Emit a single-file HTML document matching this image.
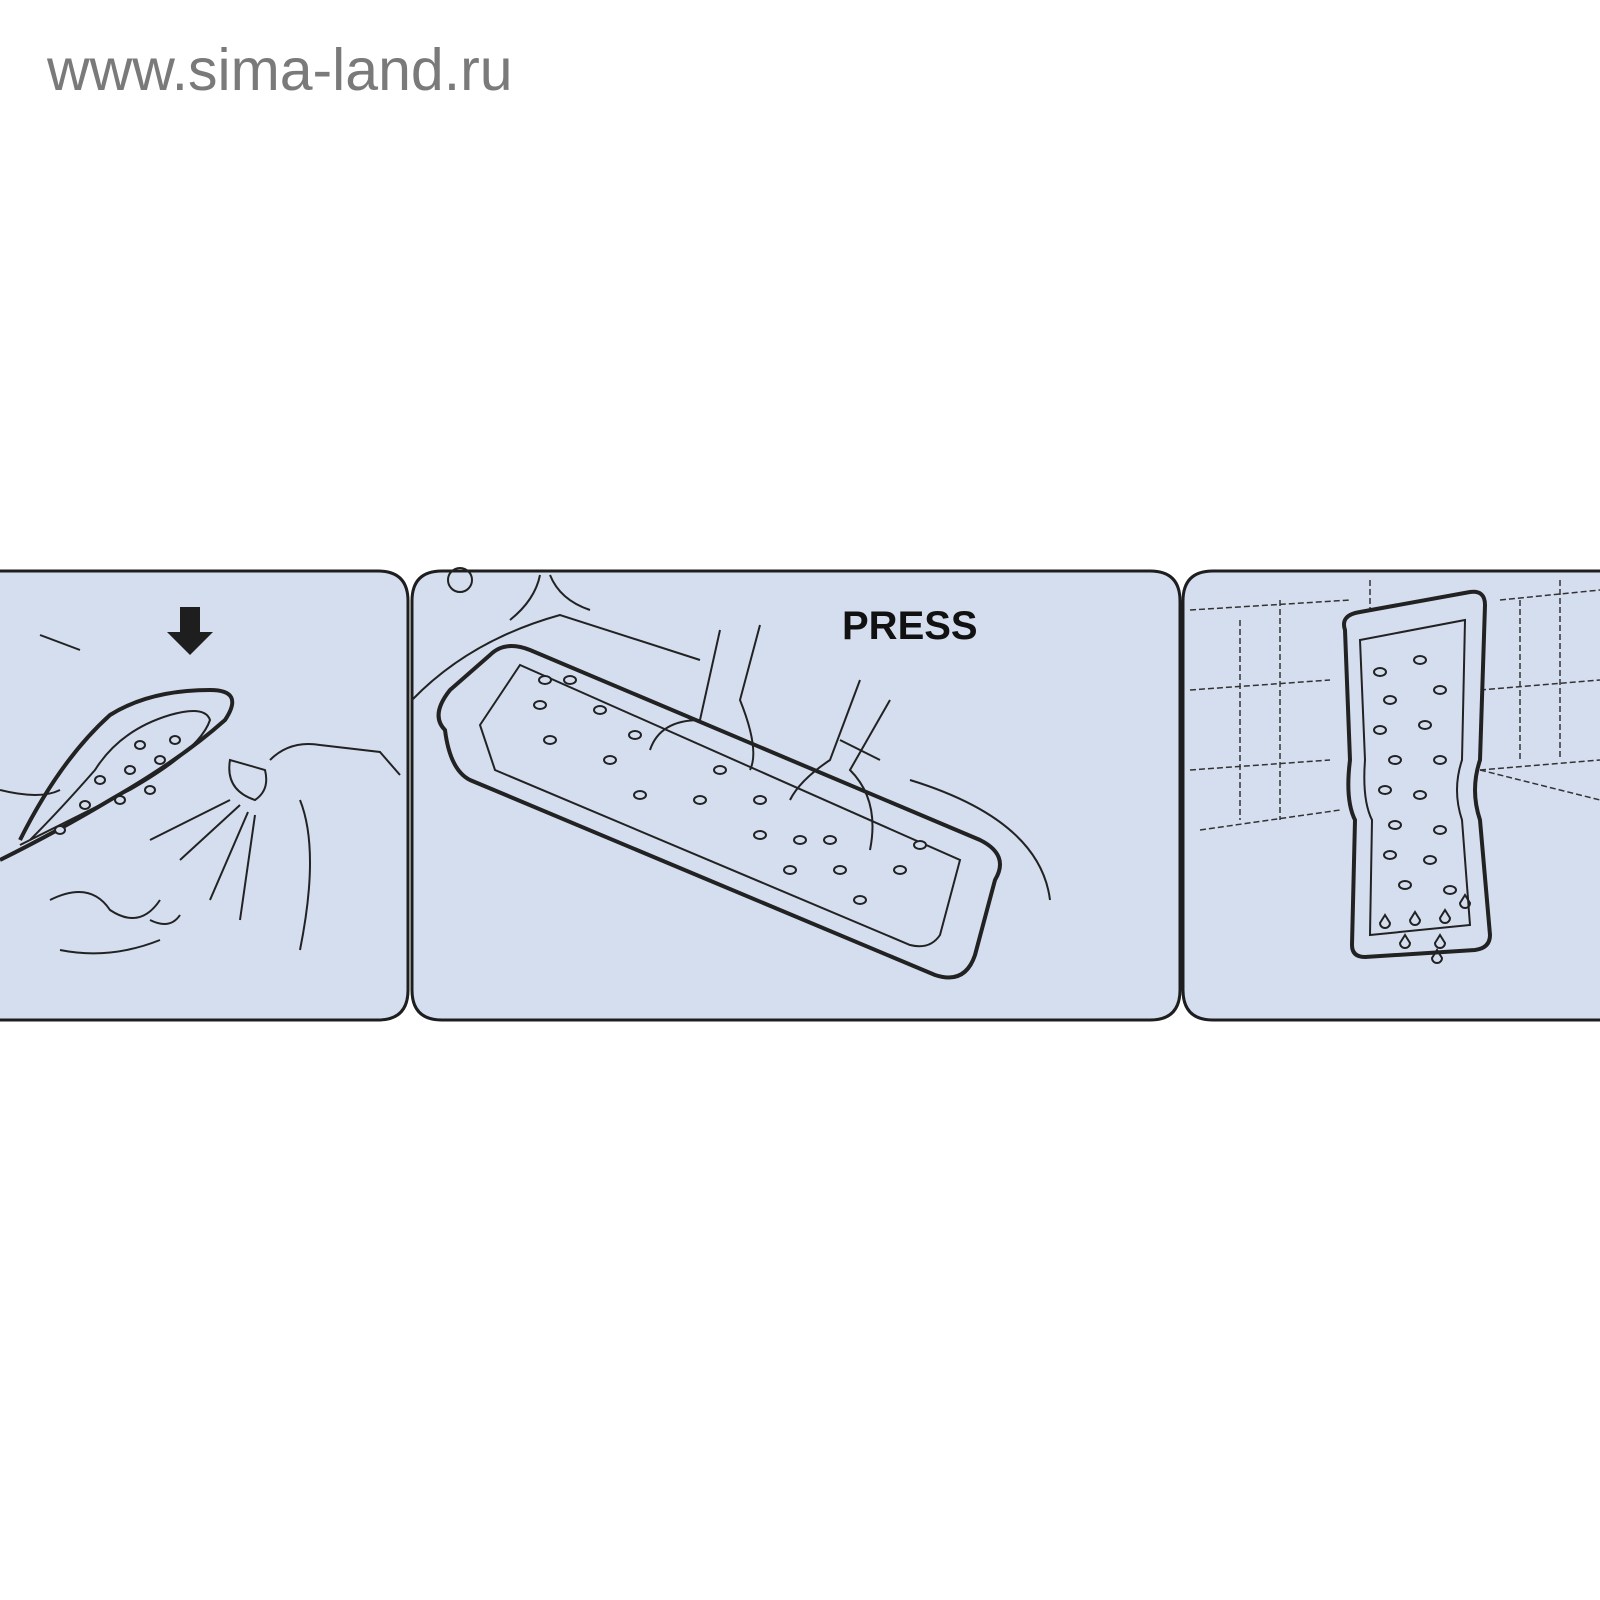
<!DOCTYPE html>
<html><head><style>
html,body{margin:0;padding:0;background:#fff;width:1600px;height:1600px;overflow:hidden}
.u{position:absolute;left:47px;top:36px;font:59px "Liberation Sans",sans-serif;color:#7a7a7a}
svg{position:absolute;left:0;top:0}
</style></head><body>
<div class="u">www.sima-land.ru</div>
<svg width="1600" height="1600" viewBox="0 0 1600 1600">
<g fill="#d5deef" stroke="#1e1e1e" stroke-width="3">
<path d="M-10 571 H378 Q408 571 408 601 V990 Q408 1020 378 1020 H-10 Z"/>
<path d="M442 571 H1150 Q1180 571 1180 601 V990 Q1180 1020 1150 1020 H442 Q412 1020 412 990 V601 Q412 571 442 571 Z"/>
<path d="M1213 571 H1610 V1020 H1213 Q1183 1020 1183 990 V601 Q1183 571 1213 571 Z"/>
</g>
<g fill="none" stroke="#222" stroke-width="2">
<path d="M0 860 Q60 830 110 800 Q180 760 225 720 Q245 690 210 690 Q150 690 110 715 Q60 760 20 840" stroke-width="4"/>
<path d="M20 845 Q80 815 130 790 Q200 750 210 720 Q205 705 170 715 Q120 730 95 770 Q60 810 30 840"/>
<path d="M0 790 Q40 800 60 790"/>
<path d="M40 635 L80 650"/>
<path d="M270 760 Q290 740 320 745 L380 752 L400 775"/>
<path d="M230 760 Q225 790 255 800 Q270 790 265 770 Z"/>
<path d="M300 800 Q320 850 300 950"/>
<path d="M50 900 Q90 880 110 910 Q140 930 160 900 M60 950 Q110 960 160 940 M150 920 Q170 930 180 915"/>
<path d="M240 805 L180 860 M248 812 L210 900 M255 815 L240 920 M230 800 L150 840"/>
<g fill="#d5deef"><ellipse cx="100" cy="780" rx="5" ry="4"/><ellipse cx="130" cy="770" rx="5" ry="4"/><ellipse cx="160" cy="760" rx="5" ry="4"/><ellipse cx="120" cy="800" rx="5" ry="4"/><ellipse cx="150" cy="790" rx="5" ry="4"/><ellipse cx="175" cy="740" rx="5" ry="4"/><ellipse cx="140" cy="745" rx="5" ry="4"/><ellipse cx="85" cy="805" rx="5" ry="4"/><ellipse cx="60" cy="830" rx="5" ry="4"/></g>
</g>
<path d="M180 607 H200 V632 H213 L190 655 L167 632 H180 Z" fill="#1e1e1e"/>
<g fill="none" stroke="#222" stroke-width="2">
<path d="M412 700 Q470 640 560 615 L700 660"/>
<path d="M540 575 Q535 600 510 620 M550 575 Q560 600 590 610"/>
<circle cx="460" cy="580" r="12"/>
<path d="M445 730 Q430 715 450 690 L490 655 Q505 640 530 650 L980 840 Q1010 855 995 880 L975 955 Q965 985 935 975 L470 780 Q450 770 445 730 Z" stroke-width="4"/>
<path d="M480 725 L520 665 L960 860 L940 935 Q930 950 910 945 L495 770 Z"/>
<path d="M910 780 Q1040 820 1050 900 M840 740 L880 760"/>
<path d="M720 630 L700 720 Q660 720 650 750 M760 625 L740 700 Q760 750 750 770"/>
<path d="M860 680 L830 760 Q800 780 790 800 M890 700 L850 770 Q880 800 870 850"/>
<g fill="#d5deef"><ellipse cx="540" cy="705" rx="6" ry="4"/><ellipse cx="570" cy="680" rx="6" ry="4"/><ellipse cx="600" cy="710" rx="6" ry="4"/><ellipse cx="550" cy="740" rx="6" ry="4"/><ellipse cx="610" cy="760" rx="6" ry="4"/><ellipse cx="635" cy="735" rx="6" ry="4"/><ellipse cx="640" cy="795" rx="6" ry="4"/><ellipse cx="700" cy="800" rx="6" ry="4"/><ellipse cx="760" cy="800" rx="6" ry="4"/><ellipse cx="720" cy="770" rx="6" ry="4"/><ellipse cx="800" cy="840" rx="6" ry="4"/><ellipse cx="760" cy="835" rx="6" ry="4"/><ellipse cx="790" cy="870" rx="6" ry="4"/><ellipse cx="840" cy="870" rx="6" ry="4"/><ellipse cx="900" cy="870" rx="6" ry="4"/><ellipse cx="860" cy="900" rx="6" ry="4"/><ellipse cx="830" cy="840" rx="6" ry="4"/><ellipse cx="920" cy="845" rx="6" ry="4"/><ellipse cx="545" cy="680" rx="6" ry="4"/></g>
</g>
<text x="842" y="639" font-family="Liberation Sans,sans-serif" font-weight="bold" font-size="40" fill="#111">PRESS</text>
<g fill="none" stroke="#333" stroke-width="1.5" stroke-dasharray="6 3">
<path d="M1190 610 L1350 600 M1190 690 L1330 680 M1190 770 L1330 760 M1500 600 L1600 590 M1480 690 L1600 680 M1480 770 L1600 760"/>
<path d="M1240 620 V820 M1280 600 V820 M1560 580 V760 M1520 600 V760 M1370 580 V620"/>
<path d="M1200 830 L1340 810 M1480 770 L1600 800"/>
</g>
<g fill="none" stroke="#222" stroke-width="2">
<path d="M1345 630 Q1340 615 1360 612 L1470 592 Q1485 590 1485 605 L1480 760 Q1470 790 1480 820 L1490 935 Q1490 948 1475 950 L1365 957 Q1352 957 1352 945 L1355 820 Q1345 800 1350 760 Z" stroke-width="4" fill="#d5deef"/>
<path d="M1360 640 L1465 620 L1462 760 Q1452 790 1462 820 L1470 925 L1370 935 L1372 820 Q1362 800 1365 760 Z"/>
<g fill="#d5deef"><ellipse cx="1380" cy="672" rx="6" ry="4"/><ellipse cx="1420" cy="660" rx="6" ry="4"/><ellipse cx="1440" cy="690" rx="6" ry="4"/><ellipse cx="1390" cy="700" rx="6" ry="4"/><ellipse cx="1380" cy="730" rx="6" ry="4"/><ellipse cx="1425" cy="725" rx="6" ry="4"/><ellipse cx="1395" cy="760" rx="6" ry="4"/><ellipse cx="1440" cy="760" rx="6" ry="4"/><ellipse cx="1385" cy="790" rx="6" ry="4"/><ellipse cx="1420" cy="795" rx="6" ry="4"/><ellipse cx="1395" cy="825" rx="6" ry="4"/><ellipse cx="1440" cy="830" rx="6" ry="4"/><ellipse cx="1390" cy="855" rx="6" ry="4"/><ellipse cx="1430" cy="860" rx="6" ry="4"/><ellipse cx="1405" cy="885" rx="6" ry="4"/><ellipse cx="1450" cy="890" rx="6" ry="4"/></g>
<path d="M1385 915 l-5 8 a5 5 0 1 0 10 0 Z M1415 912 l-5 8 a5 5 0 1 0 10 0 Z M1445 910 l-5 8 a5 5 0 1 0 10 0 Z M1465 895 l-5 8 a5 5 0 1 0 10 0 Z M1405 935 l-5 8 a5 5 0 1 0 10 0 Z M1440 935 l-5 8 a5 5 0 1 0 10 0 Z M1437 950 l-5 8 a5 5 0 1 0 10 0 Z"/>
</g>
</svg>
</body></html>
